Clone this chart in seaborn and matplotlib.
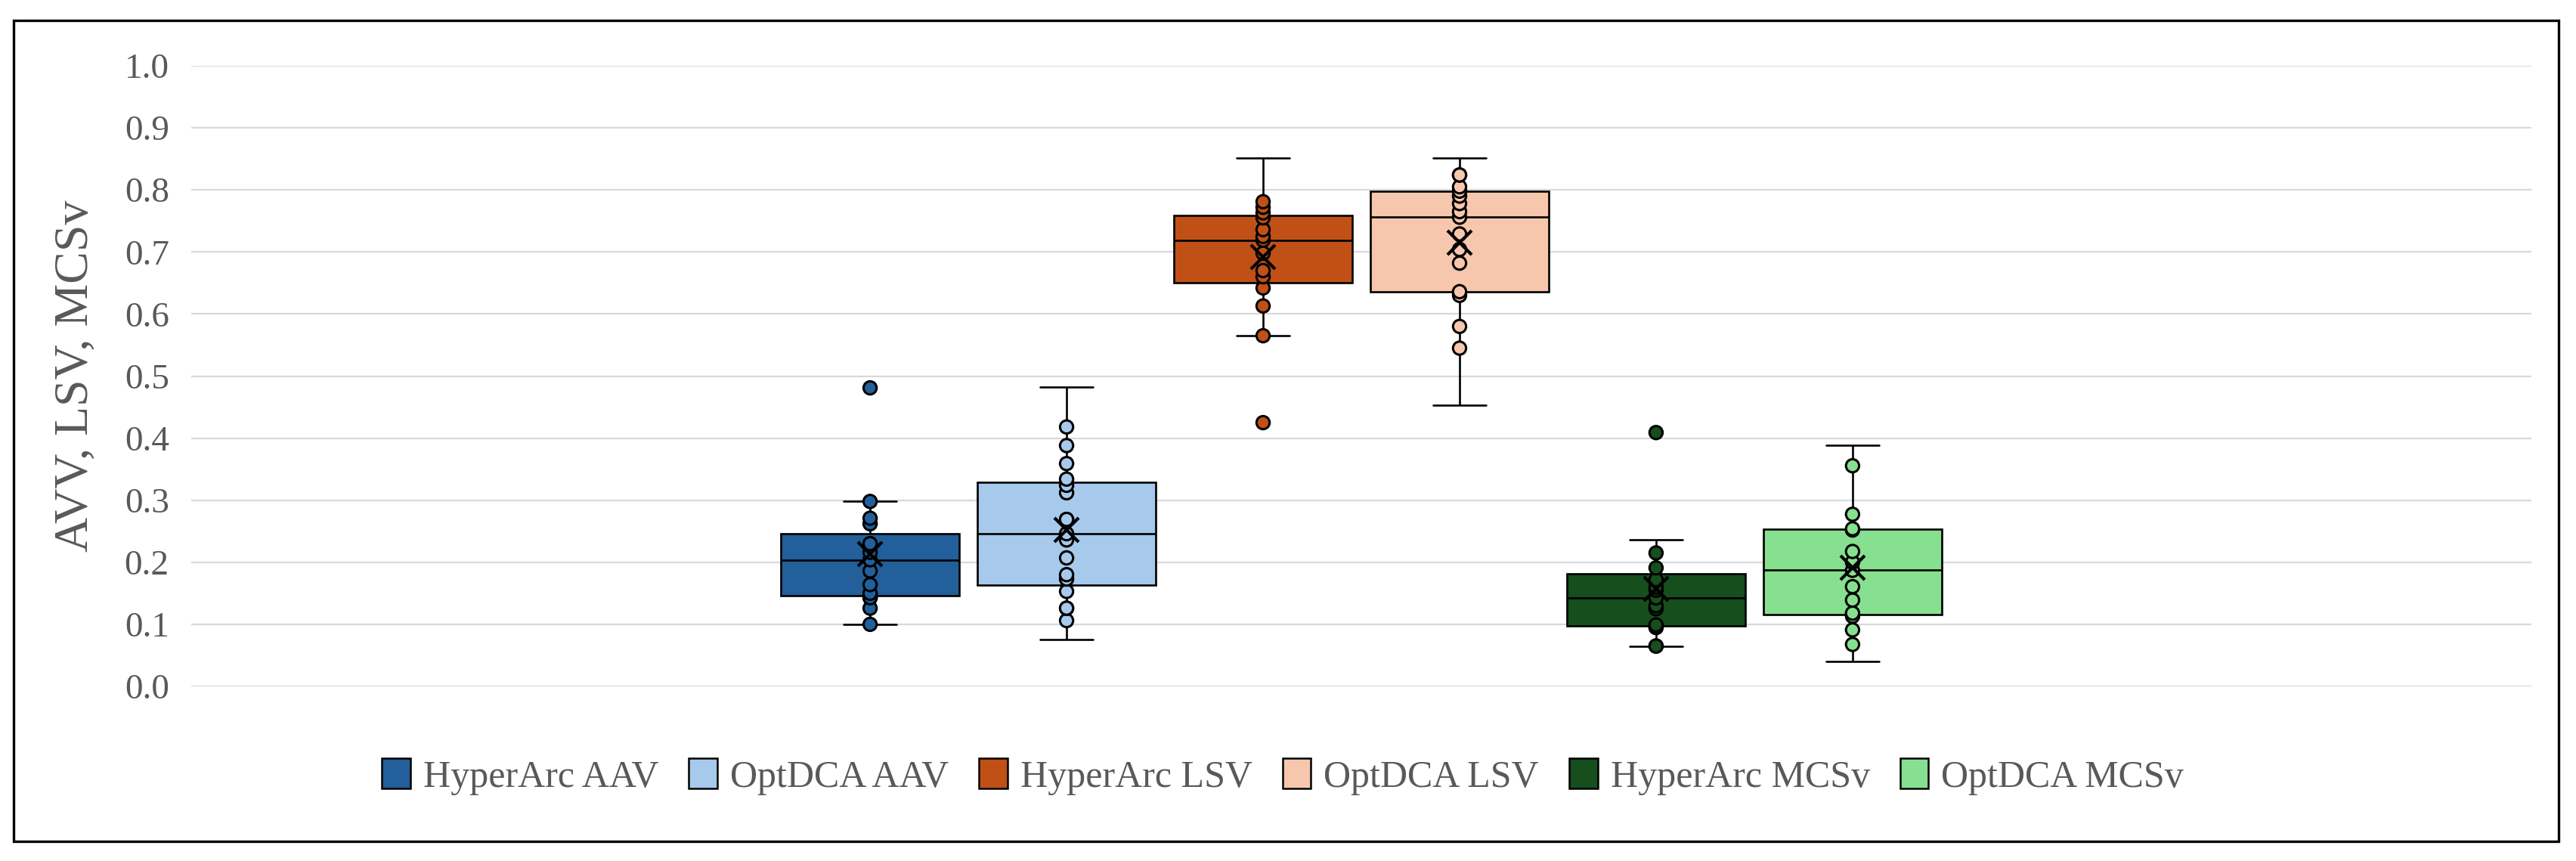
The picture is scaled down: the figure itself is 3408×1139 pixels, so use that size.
import numpy as np
import pandas as pd
import matplotlib
matplotlib.use("Agg")
import matplotlib.pyplot as plt
from matplotlib.patches import Patch, Rectangle
import seaborn as sns

# series shown in the chart (one category, six boxes)
series_names = ["HyperArc AAV", "OptDCA AAV", "HyperArc LSV",
                "OptDCA LSV", "HyperArc MCSv", "OptDCA MCSv"]
colors = ["#225f9b", "#a7c9eb", "#c05016", "#f6c7ac", "#164e1d", "#86e08f"]

# values (dots drawn)
hyperarc_aav = [0.100, 0.126, 0.143, 0.143, 0.150, 0.164, 0.186, 0.204,
                0.216, 0.230, 0.230, 0.262, 0.271, 0.298, 0.481]
optdca_aav = [0.106, 0.126, 0.126, 0.153, 0.173, 0.180, 0.207, 0.236, 0.246,
              0.269, 0.269, 0.312, 0.324, 0.334, 0.359, 0.388, 0.418]
hyperarc_lsv = [0.425, 0.565, 0.613, 0.642, 0.660, 0.670, 0.698, 0.719,
                0.725, 0.736, 0.755, 0.763, 0.772, 0.781]
optdca_lsv = [0.545, 0.580, 0.630, 0.636, 0.682, 0.704, 0.729, 0.756, 0.765,
              0.778, 0.790, 0.798, 0.805, 0.824, 0.824]
hyperarc_mcsv = [0.065, 0.065, 0.095, 0.095, 0.099, 0.125, 0.130, 0.1425,
                 0.155, 0.160, 0.172, 0.191, 0.215, 0.409]
optdca_mcsv = [0.0676, 0.091, 0.113, 0.118, 0.139, 0.1607, 0.187, 0.200,
               0.2174, 0.252, 0.254, 0.2773, 0.3555]

# whisker-end values that have no dot in the picture
hyperarc_aav_ends = []
optdca_aav_ends = [0.075, 0.482]
hyperarc_lsv_ends = [0.852]
optdca_lsv_ends = [0.453, 0.852]
hyperarc_mcsv_ends = [0.236]
optdca_mcsv_ends = [0.0405, 0.388]

dots = [hyperarc_aav, optdca_aav, hyperarc_lsv, optdca_lsv, hyperarc_mcsv, optdca_mcsv]
ends = [hyperarc_aav_ends, optdca_aav_ends, hyperarc_lsv_ends,
        optdca_lsv_ends, hyperarc_mcsv_ends, optdca_mcsv_ends]

rows_pts = []
rows_box = []
for name, d, e in zip(series_names, dots, ends):
    for v in d:
        rows_pts.append({"group": "all", "series": name, "value": v})
        rows_box.append({"group": "all", "series": name, "value": v})
    for v in e:
        rows_box.append({"group": "all", "series": name, "value": v})
df_pts = pd.DataFrame(rows_pts)
df_box = pd.DataFrame(rows_box)

sns.set_style("white")
plt.rcParams['font.family'] = ['Liberation Serif', 'DejaVu Serif']

fig = plt.figure(figsize=(34.08, 11.39), dpi=100)
ax = fig.add_axes([253/3408, 1 - 908/1139, (3349-253)/3408, (908-87)/1139])

pal = dict(zip(series_names, colors))
sns.boxplot(data=df_box, x="group", y="value", hue="series", hue_order=series_names,
            palette=pal, saturation=1, width=0.8, gap=0.09, showfliers=False, whis=1.5,
            linecolor="black", linewidth=1.9, legend=False, ax=ax,
            capwidths=0.036, showmeans=True,
            meanprops=dict(marker="x", markeredgecolor="black", markeredgewidth=3,
                           markersize=23, zorder=5))
sns.stripplot(data=df_pts, x="group", y="value", hue="series", hue_order=series_names,
              palette=pal, dodge=True, jitter=False, size=12.5, linewidth=2.2,
              edgecolor="black", legend=False, ax=ax, zorder=4)

ax.set_xlim(-0.794, 0.794)
ax.set_ylim(0, 1.0)
ax.set_yticks(np.arange(0, 1.01, 0.1))
ax.set_yticklabels([f"{t:.1f}" for t in np.arange(0, 1.01, 0.1)])
ax.set_xticks([])
ax.set_xlabel("")
ax.set_ylabel("AVV, LSV, MCSv", fontsize=46, color="#595959")
ax.yaxis.set_label_coords(-0.040, 0.5)
ax.yaxis.grid(True, color="#d9d9d9", linewidth=1.6)
ax.set_axisbelow(True)
ax.tick_params(axis="y", length=0, pad=21, labelsize=34, labelcolor="#595959")
sns.despine(ax=ax, left=True, bottom=True)

handles = [Patch(facecolor=c, edgecolor="black", linewidth=1.8) for c in colors]
fig.legend(handles, series_names, loc="center", bbox_to_anchor=(0.498, 0.098),
           ncol=6, frameon=False, fontsize=36, handlelength=0.75, handleheight=0.85,
           handletextpad=0.34, columnspacing=0.8, labelcolor="#595959")

# outer border
fig.patches.append(Rectangle((18/3408, 1 - 1113/1139), (3385-18)/3408, (1113-27)/1139,
                             transform=fig.transFigure, fill=False,
                             edgecolor="black", linewidth=2.4))

fig.savefig("out.png", dpi=100)
